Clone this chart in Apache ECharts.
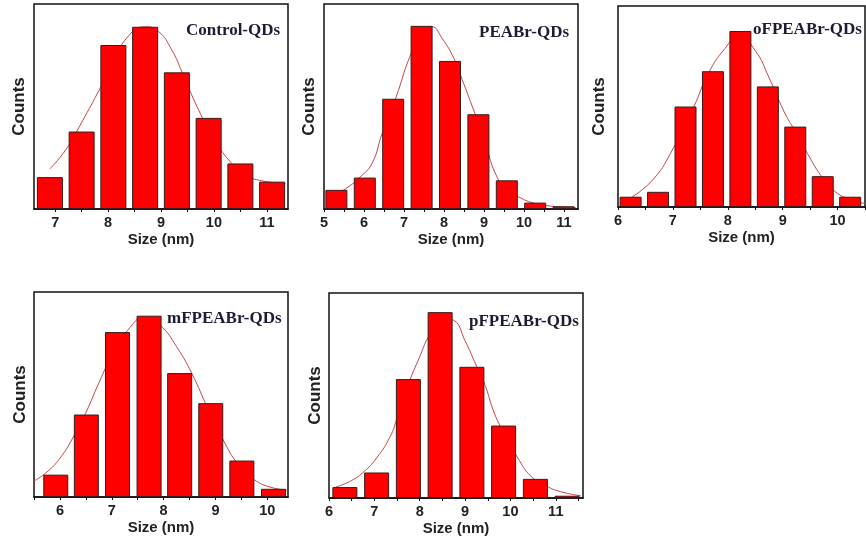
<!DOCTYPE html>
<html>
<head>
<meta charset="utf-8">
<script src="https://cdn.jsdelivr.net/npm/echarts@6/dist/echarts.min.js"></script>
<style>
html, body { margin: 0; padding: 0; background: #fff; }
#chart { width: 866px; height: 547px; }
</style>
</head>
<body>
<div id="chart"></div>
<script>
// bin centres (nm) and counts
const controlSize = [6.9, 7.5, 8.1, 8.7, 9.3, 9.9, 10.5, 11.1];
const controlCount = [7, 17, 36, 40, 30, 20, 10, 6];
const controlFit = [[6.9, 8.8], [7.2, 13], [7.5, 19], [7.85, 26.5], [8.1, 32], [8.35, 37.5], [8.7, 40], [8.95, 39], [9.2, 35], [9.4, 30], [9.7, 22], [10.0, 15.5], [10.3, 10.5], [10.6, 7.5], [10.9, 6.2], [11.35, 5.6]];
const controlTicks = [7, 8, 9, 10, 11];

const peabrSize = [5.31, 6.02, 6.73, 7.44, 8.15, 8.86, 9.57, 10.28, 10.99];
const peabrCount = [4.2, 6.9, 24.2, 40.2, 32.5, 20.8, 6.3, 1.4, 0.6];
const peabrFit = [[5.3, 3.2], [5.6, 4.8], [5.9, 7], [6.2, 10], [6.45, 16.5], [6.8, 24.5], [7.15, 33.5], [7.45, 38.5], [7.7, 40], [7.95, 37.5], [8.25, 33], [8.45, 28.5], [8.75, 21.5], [9.0, 15.5], [9.3, 7.5], [9.6, 4], [9.9, 2.5], [10.2, 1.4], [10.6, 0.7], [11.3, 0.3]];
const peabrTicks = [5, 6, 7, 8, 9, 10, 11];

const oSize = [6.23, 6.73, 7.23, 7.73, 8.23, 8.73, 9.23, 9.73, 10.23];
const oCount = [2.3, 3.4, 22.5, 30.4, 39.4, 27, 18, 6.9, 2.3];
const oFit = [[6.25, 2.2], [6.65, 6.3], [7.0, 13], [7.38, 22.4], [7.65, 30], [7.95, 35.5], [8.2, 38.3], [8.5, 35], [8.75, 29], [9.02, 21.5], [9.2, 17.5], [9.45, 12], [9.7, 7], [9.95, 3.5], [10.25, 1.6], [10.5, 0.8]];
const oTicks = [6, 7, 8, 9, 10];

const mSize = [5.92, 6.51, 7.11, 7.72, 8.31, 8.91, 9.51, 10.12];
const mCount = [4.9, 18.1, 36.2, 39.8, 27.2, 20.6, 8, 1.8];
const mFit = [[5.5, 3.5], [5.75, 5.5], [6.0, 8.5], [6.25, 13], [6.5, 18.5], [6.75, 25], [7.0, 31], [7.3, 36.5], [7.65, 39.5], [7.95, 37.5], [8.25, 33], [8.55, 27], [8.85, 19.5], [9.15, 12.5], [9.45, 7], [9.75, 3.8], [10.05, 2.2], [10.38, 1.5]];
const mTicks = [6, 7, 8, 9, 10];

const pSize = [6.35, 7.05, 7.75, 8.45, 9.15, 9.85, 10.55, 11.25];
const pCount = [2.4, 5.6, 26.1, 40.8, 28.8, 15.9, 4.2, 0.5];
const pFit = [[6.15, 2.4], [6.45, 3.6], [6.75, 5.6], [7.05, 8.8], [7.35, 13.5], [7.5, 17.5], [7.75, 25], [8.0, 31], [8.2, 35.5], [8.5, 39.5], [8.75, 39], [9.0, 34.5], [9.25, 29], [9.45, 24.5], [9.65, 18.5], [9.9, 13.5], [10.15, 9], [10.45, 4.8], [10.8, 2.6], [11.1, 1.4], [11.55, 0.5]];
const pTicks = [6, 7, 8, 9, 10, 11];

const panels = [
    {title: 'Control-QDs', size: controlSize, count: controlCount, fit: controlFit, ticks: controlTicks,
        grid: {left: 34, top: 4, width: 254, height: 205}, xMin: 6.6, xMax: 11.4, barWidth: 26, titlePos: [186, 22], countsGap: 6},
    {title: 'PEABr-QDs', size: peabrSize, count: peabrCount, fit: peabrFit, ticks: peabrTicks,
        grid: {left: 324, top: 4, width: 254, height: 205}, xMin: 5, xMax: 11.35, barWidth: 22, titlePos: [479, 24], countsGap: 6},
    {title: 'oFPEABr-QDs', size: oSize, count: oCount, fit: oFit, ticks: oTicks,
        grid: {left: 618, top: 6, width: 247, height: 201}, xMin: 6, xMax: 10.5, barWidth: 22, titlePos: [753, 21], countsGap: 10},
    {title: 'mFPEABr-QDs', size: mSize, count: mCount, fit: mFit, ticks: mTicks,
        grid: {left: 34, top: 292, width: 254, height: 205}, xMin: 5.5, xMax: 10.4, barWidth: 25, titlePos: [167, 310], countsGap: 5},
    {title: 'pFPEABr-QDs', size: pSize, count: pCount, fit: pFit, ticks: pTicks,
        grid: {left: 329, top: 293, width: 254, height: 205}, xMin: 6, xMax: 11.6, barWidth: 25, titlePos: [469, 313], countsGap: 5}
];

const sansFont = '"Liberation Sans", Arial, sans-serif';
const serifFont = '"Liberation Serif", "Times New Roman", serif';

// half-nm tick marks between the labelled ones
function halfTicks(ticks, min, max) {
    const out = [];
    for (let v = ticks[0] - 0.5; v <= ticks[ticks.length - 1] + 0.5; v += 0.5) {
        if (v >= min - 1e-6 && v <= max + 1e-6) out.push(v);
    }
    return out;
}

const option = {
    animation: false,
    backgroundColor: '#fff',
    title: [],
    grid: [],
    xAxis: [],
    yAxis: [],
    series: []
};

panels.forEach(function (p, i) {
    option.title.push({
        text: p.title,
        left: p.titlePos[0],
        top: p.titlePos[1],
        padding: 0,
        textStyle: {fontFamily: serifFont, fontWeight: 'bold', fontSize: 17, color: '#1c1c36'}
    });
    option.grid.push(Object.assign({
        show: true,
        borderColor: '#111',
        borderWidth: 1.5,
        containLabel: false,
        outerBoundsMode: 'none'
    }, p.grid));
    option.xAxis.push({
        type: 'value',
        gridIndex: i,
        min: p.xMin,
        max: p.xMax,
        name: 'Size (nm)',
        nameLocation: 'middle',
        nameGap: 23,
        nameTextStyle: {fontFamily: sansFont, fontWeight: 'bold', fontSize: 15, color: '#222'},
        splitLine: {show: false},
        axisLine: {show: true, onZero: false, lineStyle: {color: '#111', width: 1.5}},
        axisTick: {show: true, customValues: halfTicks(p.ticks, p.xMin, p.xMax), length: 3, lineStyle: {color: '#111'}},
        axisLabel: {customValues: p.ticks, margin: 6, fontFamily: sansFont, fontWeight: 'bold', fontSize: 14.5, color: '#222'}
    });
    option.yAxis.push({
        type: 'value',
        gridIndex: i,
        min: 0,
        max: 45,
        name: 'Counts',
        nameLocation: 'middle',
        nameRotate: 90,
        nameGap: p.countsGap,
        nameTextStyle: {fontFamily: sansFont, fontWeight: 'bold', fontSize: 17, color: '#222'},
        axisLine: {show: false},
        axisTick: {show: false},
        axisLabel: {show: false},
        splitLine: {show: false}
    });
    option.series.push({
        name: p.title + ' fit',
        type: 'line',
        xAxisIndex: i,
        yAxisIndex: i,
        data: p.fit,
        smooth: true,
        symbol: 'none',
        z: 1,
        lineStyle: {color: '#c94545', width: 1}
    });
    option.series.push({
        name: p.title,
        type: 'bar',
        xAxisIndex: i,
        yAxisIndex: i,
        data: p.size.map((s, k) => [s, p.count[k]]),
        barWidth: p.barWidth,
        z: 3,
        itemStyle: {color: '#ff0000', borderColor: '#3a1a1a', borderWidth: 1}
    });
});

const myChart = echarts.init(document.getElementById('chart'));
myChart.setOption(option);
</script>
</body>
</html>
